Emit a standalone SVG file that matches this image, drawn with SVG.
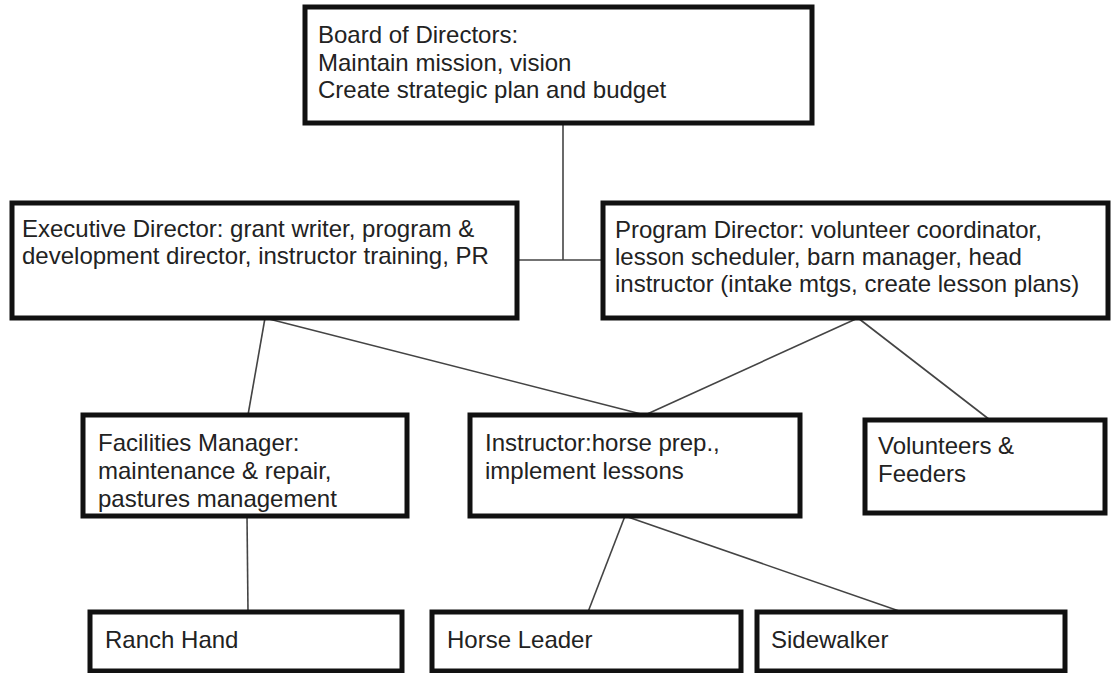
<svg xmlns="http://www.w3.org/2000/svg" width="1111" height="673" viewBox="0 0 1111 673">
<style>
.box{fill:#fff;stroke:#111;stroke-width:5}
.t{font-family:"Liberation Sans",Arial,sans-serif;font-size:24px;fill:#222}
.c{stroke:#444;stroke-width:1.6;fill:none}
</style>
<rect width="1111" height="673" fill="#fff"/>
<g id="connectors">
<line class="c" x1="563" y1="123" x2="563" y2="260"/>
<line class="c" x1="517" y1="260" x2="603" y2="260"/>
<line class="c" x1="265" y1="318" x2="248" y2="415"/>
<line class="c" x1="265" y1="318" x2="645" y2="415"/>
<line class="c" x1="858" y1="318" x2="645" y2="415"/>
<line class="c" x1="858" y1="318" x2="990" y2="420"/>
<line class="c" x1="247" y1="516" x2="248" y2="612"/>
<line class="c" x1="625" y1="516" x2="588" y2="612"/>
<line class="c" x1="625" y1="516" x2="902" y2="612"/>
</g>
<g id="board">
<rect class="box" x="305" y="7" width="507" height="116"/>
<text class="t" x="318" y="43">Board of Directors:</text>
<text class="t" x="318" y="71">Maintain mission, vision</text>
<text class="t" x="318" y="98">Create strategic plan and budget</text>
</g>
<g id="exec">
<rect class="box" x="12" y="203" width="505" height="115"/>
<text class="t" x="22" y="237">Executive Director: grant writer, program &amp;</text>
<text class="t" x="22" y="264">development director, instructor training, PR</text>
</g>
<g id="program">
<rect class="box" x="603" y="203" width="505" height="115"/>
<text class="t" x="615" y="238">Program Director: volunteer coordinator,</text>
<text class="t" x="615" y="265">lesson scheduler, barn manager, head</text>
<text class="t" x="615" y="292">instructor (intake mtgs, create lesson plans)</text>
</g>
<g id="facilities">
<rect class="box" x="83" y="415" width="324" height="101"/>
<text class="t" x="98" y="451">Facilities Manager:</text>
<text class="t" x="98" y="479">maintenance &amp; repair,</text>
<text class="t" x="98" y="507">pastures management</text>
</g>
<g id="instructor">
<rect class="box" x="470" y="415" width="330" height="101"/>
<text class="t" x="485" y="451">Instructor:horse prep.,</text>
<text class="t" x="485" y="479">implement lessons</text>
</g>
<g id="volunteers">
<rect class="box" x="865" y="420" width="240" height="93"/>
<text class="t" x="878" y="454">Volunteers &amp;</text>
<text class="t" x="878" y="482">Feeders</text>
</g>
<g id="ranch">
<rect class="box" x="90" y="612" width="312" height="59"/>
<text class="t" x="105" y="648">Ranch Hand</text>
</g>
<g id="horse">
<rect class="box" x="432" y="612" width="309" height="59"/>
<text class="t" x="447" y="648">Horse Leader</text>
</g>
<g id="sidewalker">
<rect class="box" x="757" y="612" width="308" height="59"/>
<text class="t" x="771" y="648">Sidewalker</text>
</g>
</svg>
